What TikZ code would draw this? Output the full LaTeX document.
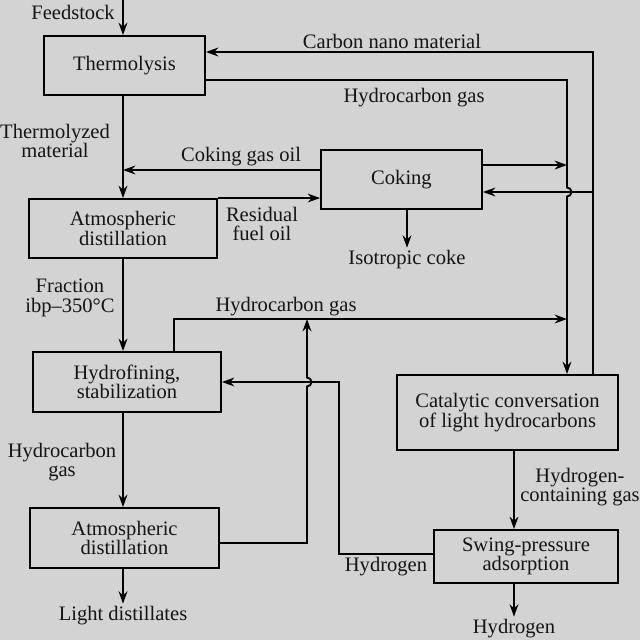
\documentclass[tikz,border=0pt]{standalone}
\usepackage{fontspec}
\setmainfont{Liberation Serif}
\definecolor{bggray}{RGB}{211,211,211}
\definecolor{inkgray}{RGB}{20,20,20}
\newcommand{\flowfont}{\fontsize{11.7}{11.2}\selectfont}
\usetikzlibrary{arrows.meta,positioning,calc}

\begin{document}
\begin{tikzpicture}[x=0.02cm, y=-0.02cm,
    procbox/.style={rectangle, draw=black, line width=1.1pt, align=center,
                    font=\flowfont, text=inkgray, inner sep=1pt},
    lbl/.style={align=center, font=\flowfont, text=inkgray, inner sep=1.5pt},
    arr/.style={-{Stealth[length=7pt,width=5pt]}, line width=1.1pt}
  ]
    \fill[bggray] (0,0) rectangle (640,640);
    \useasboundingbox (0,0) rectangle (640,640);

    % Process units
    \node[procbox, minimum width=3.22cm, minimum height=1.18cm] (thermo) at (124.5,65.5) {Thermolysis};
    \node[procbox, minimum width=3.76cm, minimum height=1.18cm] (atm1) at (123,228.5) {Atmospheric\\distillation};
    \node[procbox, minimum width=3.22cm, minimum height=1.18cm] (coking) at (401.5,179.5) {Coking};
    \node[procbox, minimum width=3.76cm, minimum height=1.2cm] (hydro) at (127,382) {Hydrofining,\\stabilization};
    \node[procbox, minimum width=3.78cm, minimum height=1.2cm] (atm2) at (124.5,538) {Atmospheric\\distillation};
    \node[procbox, minimum width=4.42cm, minimum height=1.5cm] (catal) at (507.5,412.5) {Catalytic conversation\\of light hydrocarbons};
    \node[procbox, minimum width=3.68cm, minimum height=1.06cm] (spa) at (526,556.5) {Swing-pressure\\adsorption};

    % Products
    \node[lbl] (coke) at (407,260) {Isotropic coke};
    \node[lbl] (light) at (123,616) {Light distillates};
    \node[lbl] (hout) at (514,629) {Hydrogen};

    % Stream labels
    \node[lbl] (lfeed) at (73,12) {Feedstock};
    \node[lbl] (lcnm) at (392,41) {Carbon nano material};
    \node[lbl] (lhg1) at (414,98) {Hydrocarbon gas};
    \node[lbl] (ltm) at (55,141) {Thermolyzed\\material};
    \node[lbl] (lcgo) at (241,157) {Coking gas oil};
    \node[lbl] (lrfo) at (262,224) {Residual\\fuel oil};
    \node[lbl] (lfr) at (70,298) {Fraction\\ibp--350°C};
    \node[lbl] (lhg2) at (286,307) {Hydrocarbon gas};
    \node[lbl] (lhg3) at (62,462) {Hydrocarbon\\gas};
    \node[lbl] (lhcg) at (580,487) {Hydrogen-\\containing gas};
    \node[lbl] (lh2) at (386,567) {Hydrogen};

    % Main column
    \coordinate (feed) at (123,0);
    \draw[arr] (feed) -- (feed |- thermo.north);
    \draw[arr] (feed |- thermo.south) -- (feed |- atm1.north);
    \draw[arr] (feed |- atm1.south) -- (feed |- hydro.north);
    \draw[arr] (feed |- hydro.south) -- (feed |- atm2.north);
    \draw[arr] (light |- atm2.south) -- (light);

    % Coking loop
    \coordinate (cgo) at (123,170);
    \draw[arr] (cgo -| coking.west) -- (cgo);
    \draw[arr] (atm1.north east) -- (atm1.north east -| coking.west);
    \draw[arr] (coke |- coking.south) -- (coke);

    % Gas lines to catalytic conversion
    \coordinate (hgt) at (567,80);
    \coordinate (cko) at (567,165);
    \coordinate (hgh) at (174,319);
    \draw[arr] (hgt -| thermo.east) -- (hgt) -- (567,187.5)
        arc[start angle=90, end angle=-90, radius=0.09cm] -- (hgt |- catal.north);
    \draw[arr] (cko -| coking.east) -- (cko);
    \draw[arr] (hgh |- hydro.north) -- (hgh) -- (hgh -| hgt);

    % Carbon nano material return
    \coordinate (cnm) at (593,52);
    \coordinate (cni) at (593,192);
    \draw[arr] (cnm |- catal.north) -- (cnm) -- (cnm -| thermo.east);
    \draw[arr] (cni) -- (cni -| coking.east);

    % Second distillation gas
    \coordinate (hga) at (307,543);
    \draw[arr] (hga -| atm2.east) -- (hga) -- (307,386.5)
        arc[start angle=-90, end angle=90, radius=0.09cm] -- (hga |- hgh);

    % Hydrogen
    \coordinate (hcg) at (514,490);
    \coordinate (h2) at (339,554);
    \draw[arr] (hcg |- catal.south) -- (hcg |- spa.north);
    \draw[arr] (h2 -| spa.west) -- (h2) |- (hydro.east);
    \draw[arr] (hout |- spa.south) -- (hout);
  \end{tikzpicture}
\end{document}
